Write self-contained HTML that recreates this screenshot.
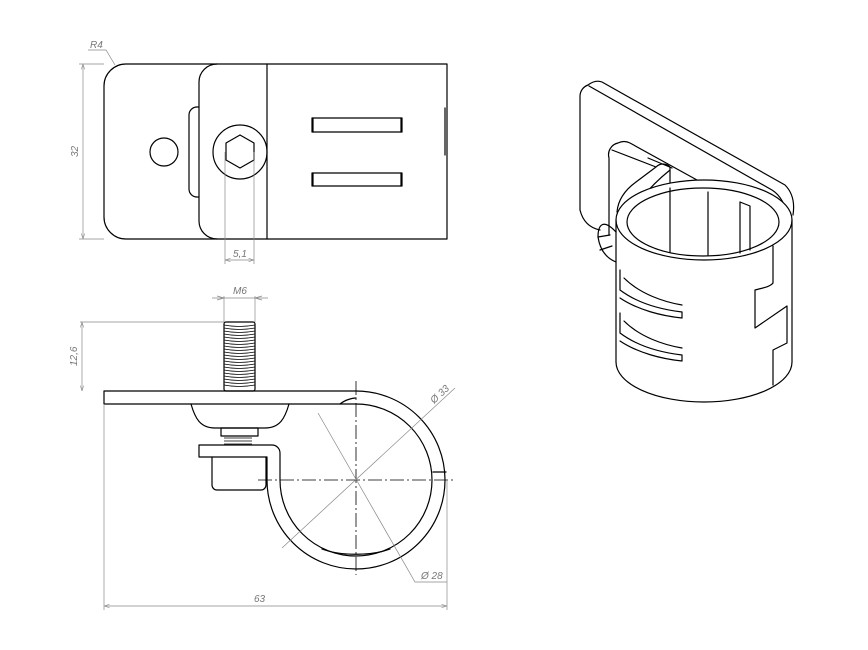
<!DOCTYPE html>
<html><head><meta charset="utf-8"><style>
html,body{margin:0;padding:0;background:#fff;}
svg{display:block;}
.k{fill:none;stroke:#000;stroke-width:1.2;stroke-linejoin:round;stroke-linecap:round}
.t{fill:none;stroke:#000;stroke-width:0.8}
.d{fill:none;stroke:#888;stroke-width:0.7}
.c{fill:none;stroke:#000;stroke-width:0.8;stroke-dasharray:14 3 2 3}
text{font-family:"Liberation Sans",sans-serif;font-style:italic;font-size:10px;fill:#777}
</style></head><body>
<svg width="868" height="650" viewBox="0 0 868 650" xmlns="http://www.w3.org/2000/svg">
<defs>
<marker id="a" markerWidth="8" markerHeight="6" refX="8" refY="3" orient="auto-start-reverse"><path d="M0,0.5 L8,3 L0,5.5" fill="none" stroke="#888" stroke-width="0.8"/></marker>
</defs>

<!-- TOP VIEW -->
<path class="k" d="M126,64 H447 V239 H126 A22,22 0 0 1 104,217 V86 A22,22 0 0 1 126,64 Z"/>
<path class="k" d="M217,64 A18,18 0 0 0 199,82 V221 A18,18 0 0 0 217,239"/>
<line class="k" x1="267" y1="64" x2="267" y2="239"/>
<path class="k" d="M199,107 H197 A8,8 0 0 0 189,115 V189 A8,8 0 0 0 197,197 H199"/>
<circle class="k" cx="164" cy="152" r="14"/>
<circle class="k" cx="240" cy="152" r="27"/>
<polygon class="k" points="240,135 254,143 254,160 240,168 226,160 226,143"/>
<rect class="k" x="312" y="118" width="90" height="14"/>
<line class="k" x1="313" y1="118" x2="313" y2="132" stroke-width="2"/>
<line class="k" x1="401" y1="118" x2="401" y2="132" stroke-width="2"/>
<rect class="k" x="312" y="173" width="90" height="13"/>
<line class="k" x1="313" y1="173" x2="313" y2="186" stroke-width="2"/>
<line class="k" x1="401" y1="173" x2="401" y2="186" stroke-width="2"/>
<line class="k" x1="445" y1="108" x2="445" y2="155"/>
<!-- dims top -->
<line class="d" x1="79" y1="64" x2="104" y2="64"/>
<line class="d" x1="79" y1="239" x2="104" y2="239"/>
<line class="d" x1="83" y1="64" x2="83" y2="239" marker-start="url(#a)" marker-end="url(#a)"/>
<text transform="translate(78,157) rotate(-90)">32</text>
<path class="d" d="M88,50 H106 L115,65"/>
<text x="90" y="48">R4</text>
<line class="d" x1="225" y1="152" x2="225" y2="264"/>
<line class="d" x1="254" y1="152" x2="254" y2="264"/>
<line class="d" x1="225" y1="260" x2="254" y2="260" marker-start="url(#a)" marker-end="url(#a)"/>
<text x="233" y="257">5,1</text>

<!-- SIDE VIEW -->
<path class="k" d="M104,391 H356 A89,89 0 1 1 267,480 V457 H199 V445 H272 A8,8 0 0 1 280,453 V480 A76,76 0 1 0 356,404 H104 Z"/>
<path class="k" d="M191,404 C195,418 200,428 215,428 H265 C280,428 285,418 289,404"/>
<rect class="k" x="221" y="428" width="37" height="8"/>
<path class="k" d="M212,457 V485 A5,5 0 0 0 217,490 H261 A5,5 0 0 0 266,485 V457"/>
<rect class="k" x="224" y="322" width="31" height="69" rx="2" fill="none"/>
<g class="t">
<path d="M224,325 Q239,328 255,325 M224,328 Q239,331 255,328 M224,331 Q239,334 255,331 M224,334 Q239,337 255,334 M224,337 Q239,340 255,337 M224,340 Q239,343 255,340 M224,343 Q239,346 255,343 M224,346 Q239,349 255,346 M224,349 Q239,352 255,349 M224,352 Q239,355 255,352 M224,355 Q239,358 255,355 M224,358 Q239,361 255,358 M224,361 Q239,364 255,361 M224,364 Q239,367 255,364 M224,367 Q239,370 255,367 M224,370 Q239,373 255,370 M224,373 Q239,376 255,373 M224,376 Q239,379 255,376 M224,379 Q239,382 255,379 M224,382 Q239,385 255,382 M224,385 Q239,388 255,385"/>
<path d="M224,438 H252 M224,441 H252 M224,444 H252"/>
</g>
<path class="k" d="M340,404 C345,400 352,398 356,398" stroke-width="0.8"/>
<path class="k" d="M322,549 C340,556 372,556 390,549" stroke-width="0.8"/>
<line class="k" x1="433" y1="472" x2="446" y2="472" stroke-width="0.8"/>
<!-- centerlines -->
<line class="c" x1="258" y1="480" x2="456" y2="480"/>
<line class="c" x1="356" y1="381" x2="356" y2="575"/>
<!-- dims side -->
<line class="d" x1="80" y1="322" x2="224" y2="322"/>
<line class="d" x1="82" y1="322" x2="82" y2="391" marker-start="url(#a)" marker-end="url(#a)"/>
<text transform="translate(77,366) rotate(-90)">12,6</text>
<line class="d" x1="224" y1="296" x2="224" y2="322"/>
<line class="d" x1="255" y1="296" x2="255" y2="322"/>
<line class="d" x1="212" y1="298" x2="268" y2="298"/>
<path class="d" d="M224,298 l-7,-2 M224,298 l-7,2 M255,298 l7,-2 M255,298 l7,2"/>
<text x="233" y="294">M6</text>
<line class="d" x1="104" y1="404" x2="104" y2="610"/>
<line class="d" x1="447" y1="480" x2="447" y2="610"/>
<line class="d" x1="104" y1="606" x2="447" y2="606" marker-start="url(#a)" marker-end="url(#a)"/>
<text x="254" y="602">63</text>
<line class="d" x1="282" y1="548" x2="455" y2="388"/>
<text transform="translate(434,404) rotate(-43)">Ø 33</text>
<polyline class="d" points="318,413 415,582 447,582"/>
<text x="421" y="579">Ø 28</text>

<!-- 3D VIEW -->
<g class="k">
<path d="M580,210 V96 A12,12 0 0 1 588,85 C592,82 597,80 602,82 L785,185 C792,192 795,202 793,215"/>
<path d="M589,86 L772,190 C780,195 786,205 786,215"/>
<path d="M580,210 C583,222 590,228 600,230"/>
<!-- inner tab -->
<path d="M609,235 V158 A12,12 0 0 1 618,143 C622,141 626,141 630,143 L697,180 C705,186 708,193 708,203 V253"/>
<path d="M612,150 L656,167 L636,182 C625,190 618,200 617,212"/>
<path d="M656,167 C660,163 666,163 670,167 V252"/>
<path d="M648,158 L672,168"/>
<path d="M670,170 C660,178 648,190 640,200"/>
<path d="M616,220 A88,40 0 0 1 792,220 A88,40 0 0 1 616,220 Z" fill="#fff"/>
<path d="M627,222 A76,34 0 0 1 779,222 A76,34 0 0 1 627,222 Z"/>
<path d="M670,188 V252 M708,192 V255" />
<line x1="616" y1="220" x2="616" y2="362"/>
<line x1="792" y1="220" x2="792" y2="362"/>
<path d="M616,362 A88,40 0 0 0 792,362"/>
<path d="M740,202 L750,206 V250 M740,202 V253"/>
<path d="M773,246 V283 C770,287 762,288 755,290 V328 L787,306 V343 L773,350 V385"/>
<path d="M616,232 C603,218 598,225 598,237 C600,250 606,258 616,262"/>
<path d="M598,237 L610,235 M600,250 L612,246"/>
<path d="M620,270 V290 C640,305 665,310 682,312 V318 C662,316 638,310 620,298"/>
<path d="M624,278 C640,294 664,302 682,305"/>
<path d="M620,313 V333 C640,348 665,353 682,355 V361 C662,359 638,353 620,341"/>
<path d="M624,321 C640,337 664,345 682,348"/>
</g>
</svg>
</body></html>
